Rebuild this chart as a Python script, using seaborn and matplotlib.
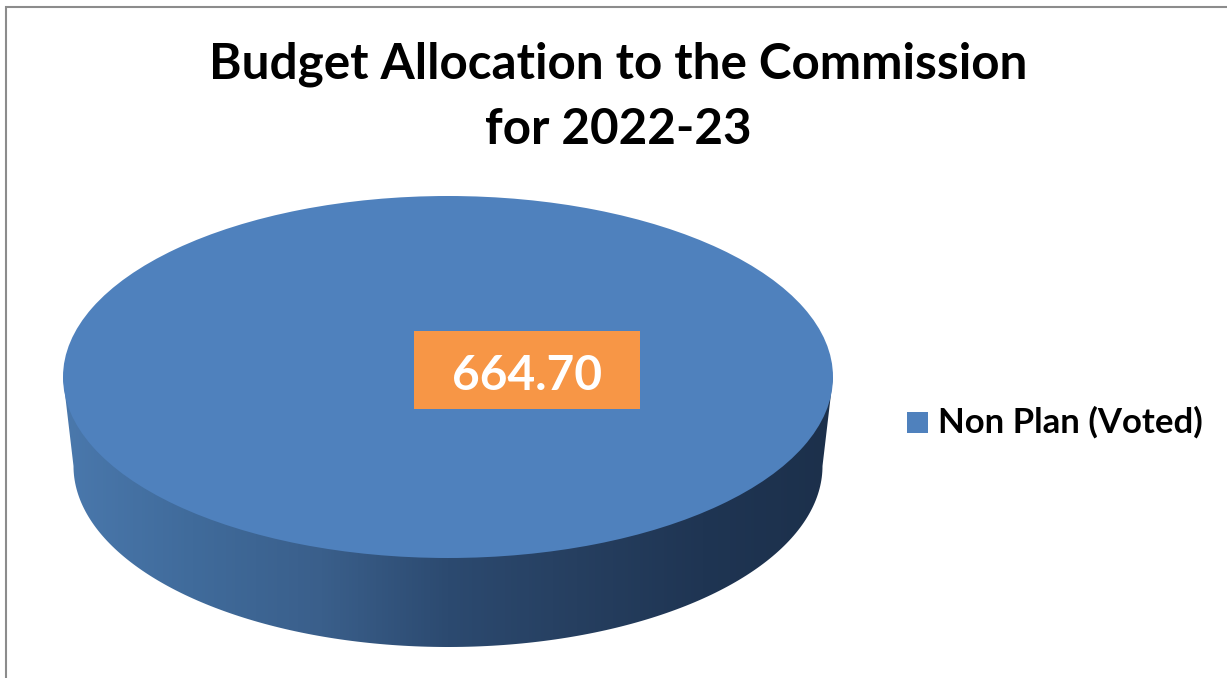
#!/usr/bin/env python3

import numpy as np
import seaborn as sns
import matplotlib.pyplot as plt
from matplotlib.colors import LinearSegmentedColormap
from matplotlib.patches import Polygon, Rectangle

# Data
title_lines = ["Budget Allocation to the Commission", "for 2022-23"]
categories = ["Non Plan (Voted)"]
values = [664.70]
value_labels = ["664.70"]

# Colours
pie_color = "#4F81BD"
label_color = "#F79646"
frame_color = "#8C8C8C"
side_stops = ["#4A78AC", "#406B9B", "#3A5F8B", "#2C4A70", "#263F60", "#1F3553", "#1C304B"]

W, H = 1227, 678

sns.set_theme(style="white")
plt.rcParams["font.family"] = ["Lato", "DejaVu Sans"]

fig = plt.figure(figsize=(W / 100, H / 100), dpi=100, facecolor="white")

# Pixel layer for the frame, the pie side and the value box
canvas = fig.add_axes([0, 0, 1, 1], zorder=1)
canvas.set_xlim(0, W)
canvas.set_ylim(H, 0)
canvas.axis("off")

# Chart frame, open on the right and at the bottom
canvas.plot([6, 6, W], [H, 6.5, 6.5], color=frame_color, lw=1.5, solid_joinstyle="miter")

# Side of the disc with its horizontal shading
t = np.linspace(0, np.pi, 200)
bottom_edge = np.column_stack([448 + 374.5 * np.cos(t), 466 + 181 * np.sin(t)])
outline = np.vstack([[[833, 377]], bottom_edge, [[63, 377]]])
side = Polygon(outline, closed=True, transform=canvas.transData, fc="none", ec="none")
canvas.add_patch(side)
side_cmap = LinearSegmentedColormap.from_list("side", side_stops)
shade = canvas.imshow(np.linspace(0, 1, 256)[None, :], cmap=side_cmap, aspect="auto",
                      extent=(63, 833, 650, 370), interpolation="bilinear")
shade.set_clip_path(side)
canvas.set_xlim(0, W)
canvas.set_ylim(H, 0)

# Top of the disc
pie_ax = fig.add_axes([63 / W, 1 - 558 / H, 770 / W, 362 / H], zorder=2)
wedges, _ = pie_ax.pie(values, colors=[pie_color], startangle=90, radius=1,
                       wedgeprops={"linewidth": 0})
pie_ax.set_aspect("auto")
pie_ax.set_xlim(-1, 1)
pie_ax.set_ylim(-1, 1)

# Value label and texts on top
overlay = fig.add_axes([0, 0, 1, 1], zorder=3)
overlay.set_xlim(0, W)
overlay.set_ylim(H, 0)
overlay.axis("off")
overlay.add_patch(Rectangle((414, 331), 226, 78, fc=label_color, ec="none"))
overlay.text(527, 376, value_labels[0], color="white", fontsize=34.5, fontweight="bold",
             ha="center", va="center")

overlay.text(618, 64, title_lines[0], color="black", fontsize=35.6, fontweight="bold",
             ha="center", va="center")
overlay.text(618, 130, title_lines[1], color="black", fontsize=35.6, fontweight="bold",
             ha="center", va="center")

# Legend
overlay.add_patch(Rectangle((907, 412), 21, 21, fc=pie_color, ec="none"))
overlay.text(938, 422, categories[0], color="black", fontsize=25, fontweight="bold",
             ha="left", va="center")

plt.savefig("out.png", dpi=100)
